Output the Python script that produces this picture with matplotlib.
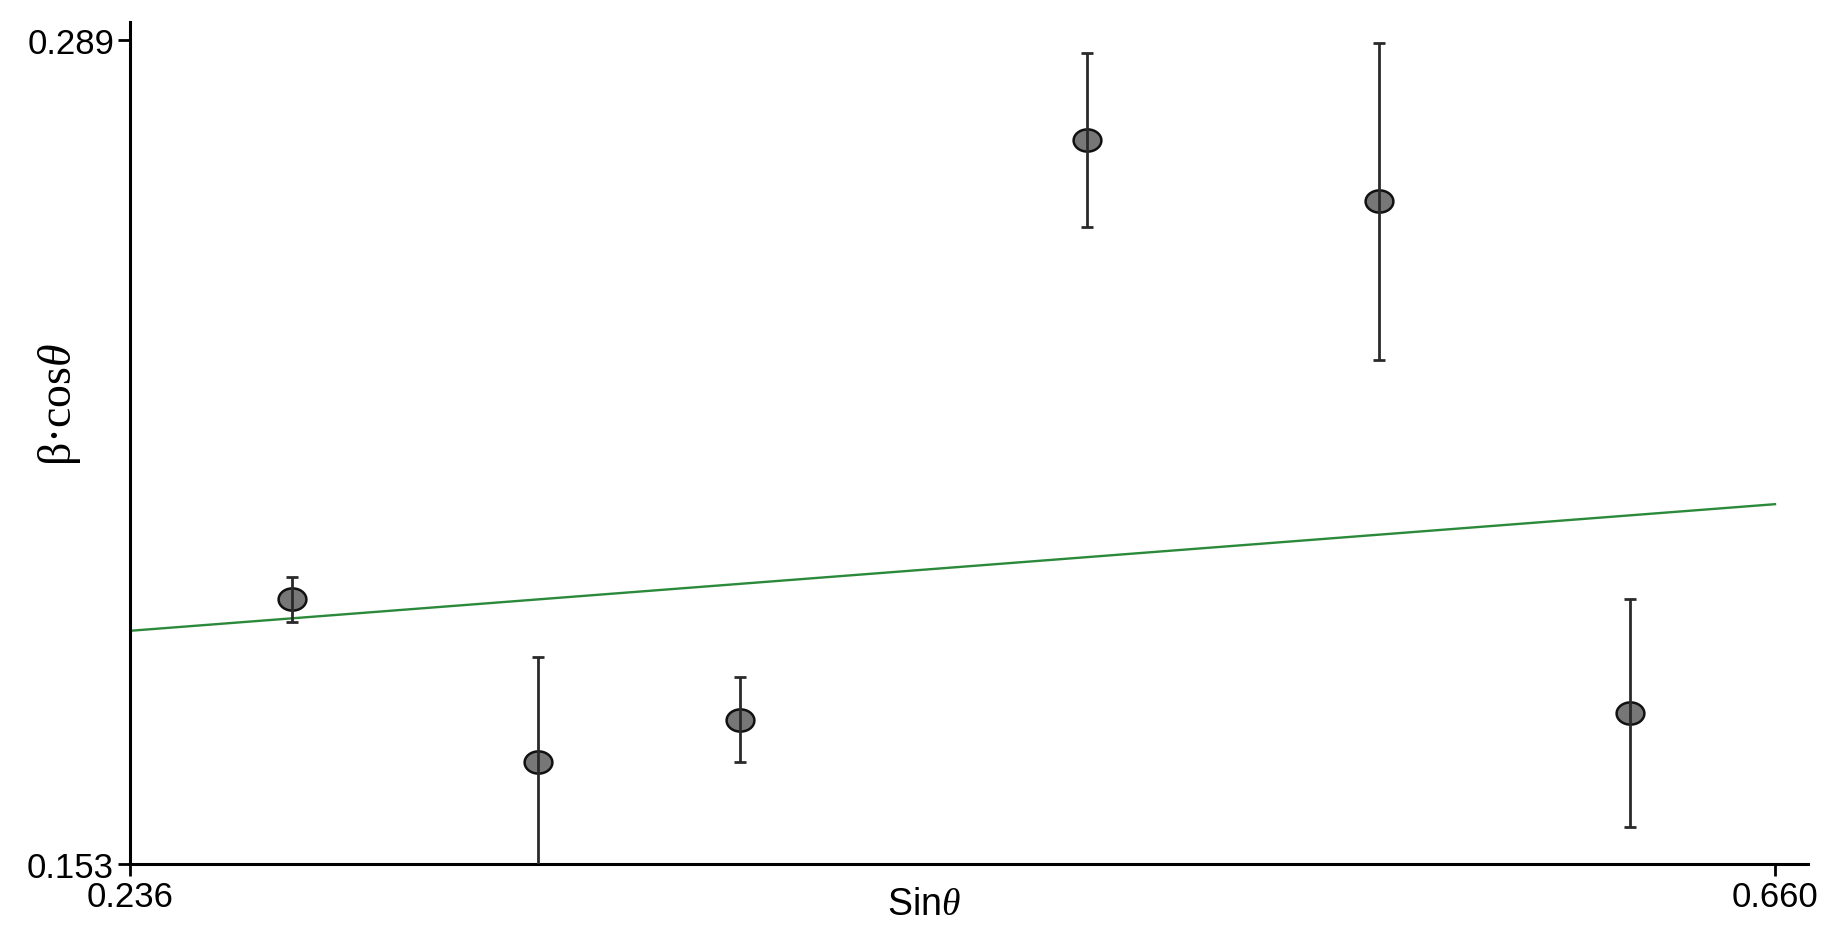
import matplotlib.pyplot as plt
import numpy as np
from matplotlib.path import Path

plt.rcParams['font.family'] = ['Liberation Sans', 'DejaVu Sans']
plt.rcParams['mathtext.fontset'] = 'custom'
plt.rcParams['mathtext.rm'] = 'Liberation Serif'
plt.rcParams['mathtext.it'] = 'Liberation Serif:italic'

# data
sin_theta = [0.2778, 0.3412, 0.3932, 0.4827, 0.5579, 0.6226]
beta_cos = [0.1967, 0.1698, 0.1768, 0.2725, 0.2624, 0.1779]
beta_err = [0.0037, 0.0174, 0.0070, 0.0143, 0.0262, 0.0188]

fit_x = [0.236, 0.660]
fit_y = [0.1915, 0.2124]

x_ticks = [0.236, 0.660]
y_ticks = [0.153, 0.289]

# slightly flat ellipse marker
t = np.linspace(0, 2 * np.pi, 60)
ellipse = Path(np.column_stack([np.cos(t), 0.8 * np.sin(t)]), closed=True)

fig = plt.figure(figsize=(18.34, 9.37), dpi=100)
ax = fig.add_axes([0.0709, 0.0768, 0.9149, 0.8987])

ax.plot(fit_x, fit_y, color="#2a8a3a", lw=1.7, zorder=2)
ax.plot(sin_theta, beta_cos, ls="none", marker=ellipse, markersize=20,
        markerfacecolor="#777777", markeredgecolor="#111111",
        markeredgewidth=1.8, zorder=3)
ax.errorbar(sin_theta, beta_cos, yerr=beta_err, fmt="none", ecolor="#2a2a2a",
            elinewidth=2.0, capsize=4.5, capthick=2.0, zorder=4)

ax.set_xlim(0.236, 0.6685)
ax.set_ylim(0.153, 0.292)
ax.set_xticks(x_ticks)
ax.set_yticks(y_ticks)
ax.set_xticklabels(["%.3f" % v for v in x_ticks])
ax.set_yticklabels(["%.3f" % v for v in y_ticks])

for s in ["top", "right"]:
    ax.spines[s].set_visible(False)
for s in ["left", "bottom"]:
    ax.spines[s].set_linewidth(2.2)
ax.tick_params(direction="out", length=8.5, width=2, labelsize=25, pad=3)

ax.set_xlabel(r"Sin$\theta$", fontsize=27)
ax.xaxis.set_label_coords(0.473, -0.026)
ax.set_ylabel(r"β·cos$\theta$", fontsize=33, family="Liberation Serif")
ax.yaxis.set_label_coords(-0.028, 0.547)

plt.savefig("out.png", dpi=100)
